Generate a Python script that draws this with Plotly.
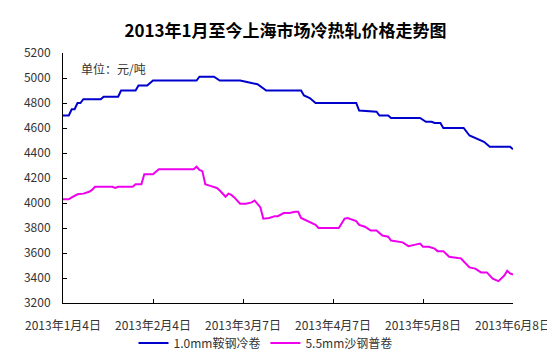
import plotly.graph_objects as go

title_text = "2013年1月至今上海市场冷热轧价格走势图"
unit_text = "单位：元/吨"

series1_name = "1.0mm鞍钢冷卷"
series1_dates = ["2013-01-04", "2013-01-06", "2013-01-07", "2013-01-08", "2013-01-09", "2013-01-10",
                 "2013-01-11", "2013-01-17", "2013-01-18", "2013-01-23", "2013-01-24", "2013-01-29",
                 "2013-01-30", "2013-02-02", "2013-02-04", "2013-02-19", "2013-02-20", "2013-02-25",
                 "2013-02-27", "2013-03-06", "2013-03-08", "2013-03-10", "2013-03-12", "2013-03-15",
                 "2013-03-27", "2013-03-28", "2013-03-30", "2013-04-01", "2013-04-15", "2013-04-16",
                 "2013-04-22", "2013-04-23", "2013-04-26", "2013-04-27", "2013-05-07", "2013-05-09",
                 "2013-05-11", "2013-05-12", "2013-05-14", "2013-05-15", "2013-05-22", "2013-05-24",
                 "2013-05-25", "2013-05-27", "2013-05-29", "2013-05-31", "2013-06-07", "2013-06-08"]
series1_values = [4700, 4700, 4750, 4750, 4800, 4800,
                  4830, 4830, 4850, 4850, 4900, 4900,
                  4940, 4940, 4980, 4980, 5010, 5010,
                  4980, 4980, 4970, 4960, 4950, 4900,
                  4900, 4860, 4840, 4800, 4800, 4740,
                  4730, 4700, 4700, 4680, 4680, 4650,
                  4650, 4640, 4640, 4600, 4600, 4540,
                  4530, 4510, 4490, 4450, 4450, 4430]

series2_name = "5.5mm沙钢普卷"
series2_dates = ["2013-01-04", "2013-01-06", "2013-01-07", "2013-01-09", "2013-01-11", "2013-01-13",
                 "2013-01-14", "2013-01-15", "2013-01-21", "2013-01-22", "2013-01-23", "2013-01-28",
                 "2013-01-29", "2013-01-31", "2013-02-01", "2013-02-04", "2013-02-06", "2013-02-18",
                 "2013-02-19", "2013-02-20", "2013-02-21", "2013-02-22", "2013-02-24", "2013-02-26",
                 "2013-02-27", "2013-03-01", "2013-03-02", "2013-03-03", "2013-03-04", "2013-03-06",
                 "2013-03-08", "2013-03-10", "2013-03-11", "2013-03-12", "2013-03-13", "2013-03-14",
                 "2013-03-16", "2013-03-18", "2013-03-19", "2013-03-21", "2013-03-23", "2013-03-25",
                 "2013-03-26", "2013-03-27", "2013-03-30", "2013-04-01", "2013-04-02", "2013-04-09",
                 "2013-04-11", "2013-04-12", "2013-04-15", "2013-04-16", "2013-04-18", "2013-04-20",
                 "2013-04-22", "2013-04-24", "2013-04-26", "2013-04-27", "2013-05-01", "2013-05-03",
                 "2013-05-05", "2013-05-07", "2013-05-08", "2013-05-10", "2013-05-12", "2013-05-13",
                 "2013-05-15", "2013-05-17", "2013-05-20", "2013-05-21", "2013-05-24", "2013-05-26",
                 "2013-05-28", "2013-05-30", "2013-06-01", "2013-06-03", "2013-06-05", "2013-06-06",
                 "2013-06-07", "2013-06-08"]
series2_values = [4030, 4030, 4045, 4070, 4075, 4090,
                  4105, 4130, 4130, 4120, 4130, 4130,
                  4150, 4150, 4230, 4230, 4270, 4270,
                  4290, 4265, 4255, 4150, 4135, 4120,
                  4100, 4050, 4075, 4065, 4045, 3995,
                  3995, 4005, 4020, 3995, 3965, 3875,
                  3880, 3895, 3895, 3920, 3920, 3930,
                  3930, 3880, 3850, 3825, 3800, 3800,
                  3875, 3880, 3855, 3825, 3810, 3780,
                  3780, 3740, 3730, 3700, 3685, 3655,
                  3665, 3675, 3650, 3650, 3635, 3615,
                  3615, 3570, 3560, 3558, 3485, 3475,
                  3445, 3445, 3395, 3375, 3420, 3458,
                  3437, 3427]

x_tick_dates = ["2013-01-04", "2013-02-04", "2013-03-07", "2013-04-07", "2013-05-08", "2013-06-08"]
x_tick_labels = ["2013年1月4日", "2013年2月4日", "2013年3月7日", "2013年4月7日", "2013年5月8日", "2013年6月8日"]
y_ticks = [3200, 3400, 3600, 3800, 4000, 4200, 4400, 4600, 4800, 5000, 5200]

FONT = "Noto Sans CJK SC"

fig = go.Figure()
fig.add_trace(go.Scatter(x=series1_dates, y=series1_values, mode="lines", name=series1_name,
                         line=dict(color="#0000CC", width=2)))
fig.add_trace(go.Scatter(x=series2_dates, y=series2_values, mode="lines", name=series2_name,
                         line=dict(color="#EE00EE", width=2)))

fig.update_layout(
    width=555, height=361,
    margin=dict(l=55, r=48, t=45, b=52),
    paper_bgcolor="white", plot_bgcolor="white",
    font=dict(family=FONT, size=12, color="#333333"),
    title=dict(text="<b>" + title_text + "</b>", x=0.5, xanchor="center",
               yref="container", y=1 - 23 / 361, yanchor="middle",
               font=dict(family=FONT, size=17, color="#000000")),
    showlegend=True,
    legend=dict(orientation="h", x=0.45, xanchor="center", y=-0.16, yanchor="middle",
                font=dict(family=FONT, size=12, color="#333333"),
                bgcolor="rgba(0,0,0,0)", itemwidth=30),
    xaxis=dict(type="date", range=["2013-01-04", "2013-06-08"],
               tickmode="array", tickvals=x_tick_dates, ticktext=x_tick_labels,
               showline=True, linecolor="#000000", linewidth=1,
               ticks="inside", ticklen=4, tickcolor="#000000",
               showgrid=False, zeroline=False, ticklabelstandoff=12,
               tickfont=dict(family=FONT, size=12, color="#333333")),
    yaxis=dict(range=[3200, 5200], tickmode="array", tickvals=y_ticks,
               showline=True, linecolor="#000000", linewidth=1,
               ticks="inside", ticklen=4, tickcolor="#000000",
               showgrid=False, zeroline=False, ticklabelstandoff=9,
               tickfont=dict(family=FONT, size=12, color="#333333")),
)

fig.add_annotation(text=unit_text, xref="paper", yref="paper",
                   x=(71 - 55) / 452, y=(309 - 61) / 264, xanchor="left", yanchor="middle",
                   showarrow=False, font=dict(family=FONT, size=12, color="#333333"))

fig.write_html("out.html")
